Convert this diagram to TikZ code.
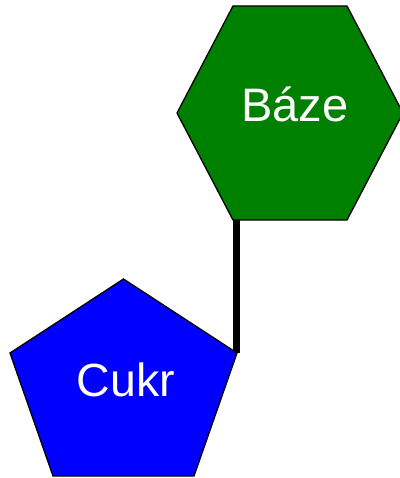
\documentclass[tikz,border=0pt]{standalone}
\usepackage{fontspec}
\setmainfont{Liberation Sans}
\definecolor{bazegreen}{HTML}{008000}
\definecolor{cukrblue}{HTML}{0000FF}
\begin{document}
\begin{tikzpicture}[x=1pt,y=-1pt,
  shapeline/.style={draw=black,line width=1.3pt,line join=miter},
  label/.style={text=white,font=\fontsize{47}{56}\selectfont,inner sep=0pt,anchor=base},
  bond/.style={draw=black,line width=7pt}]
\useasboundingbox (0,0) rectangle (399,478);
% hexagon (Báze)
\draw[shapeline,fill=bazegreen] (177,113) -- (233,6) -- (347,6) -- (403,113) -- (347,220) -- (233,220) -- cycle;
\node[label] (baze) at (295,122) {Báze};
% pentagon (Cukr)
\draw[shapeline,fill=cukrblue] (123.5,279) -- (237,353) -- (194,476) -- (53,476) -- (10,353) -- cycle;
\node[label,font=\fontsize{46.5}{55}\selectfont] (cukr) at (126,396) {Cukr};
% bond
\coordinate (btop) at (236.5,220);
\coordinate (bbot) at (236.5,353);
\draw[bond] (btop) -- (bbot);
\end{tikzpicture}
\end{document}
